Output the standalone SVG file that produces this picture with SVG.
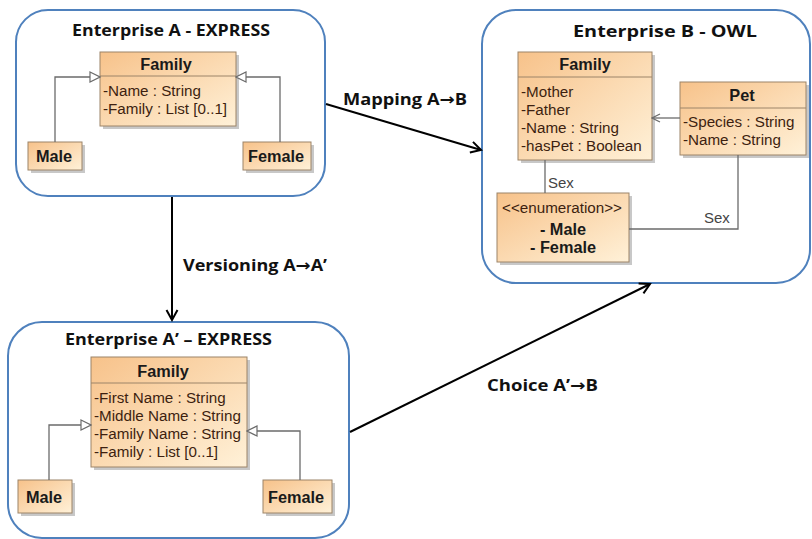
<svg xmlns="http://www.w3.org/2000/svg" width="812" height="539" viewBox="0 0 812 539">
  <style>
    .frame { fill: #ffffff; stroke: #4f81bd; stroke-width: 2; }
    .title { font-family: "Open Sans", "Liberation Sans", sans-serif; font-weight: bold; font-size: 16px; fill: #111; }
    .cls { fill: url(#boxFill); stroke: #9c8468; stroke-width: 1; }
    .shadow { fill: #c8c8c8; }
    .sep { stroke: #9c8468; stroke-width: 1; }
    .cname { font-family: "Liberation Sans", Arial, sans-serif; font-weight: bold; font-size: 16.3px; fill: #1a1a1a; text-anchor: middle; }
    .attr { font-family: "Liberation Sans", Arial, sans-serif; font-size: 15.2px; fill: #3d1f10; }
    .rel { fill: none; stroke: #6b6b6b; stroke-width: 1.3; }
    .role { font-family: "Liberation Sans", Arial, sans-serif; font-size: 15px; fill: #444; }
    .flow { fill: none; stroke: #000; stroke-width: 2; }
    .flabel { font-family: "Open Sans", "Liberation Sans", sans-serif; font-weight: bold; font-size: 16px; fill: #111; }
    .arr { font-family: "DejaVu Sans", sans-serif; font-weight: bold; }
  </style>
  <defs>
    <linearGradient id="boxFill" x1="0" y1="0" x2="1" y2="1">
      <stop offset="0" stop-color="#f7c28a"/>
      <stop offset="1" stop-color="#fff1d8"/>
    </linearGradient>
    <marker id="gen" viewBox="0 0 12 12" refX="11" refY="6" markerWidth="12" markerHeight="12" markerUnits="userSpaceOnUse" orient="auto">
      <path d="M1,1 L11,6 L1,11 Z" fill="#fff" stroke="#6b6b6b" stroke-width="1.2"/>
    </marker>
    <marker id="nav" viewBox="0 0 12 12" refX="11" refY="6" markerWidth="12" markerHeight="12" markerUnits="userSpaceOnUse" orient="auto">
      <path d="M3,2 L11,6 L3,10" fill="none" stroke="#6b6b6b" stroke-width="1.2"/>
    </marker>
    <marker id="head" viewBox="0 0 14 14" refX="12" refY="7" markerWidth="14" markerHeight="14" markerUnits="userSpaceOnUse" orient="auto">
      <path d="M2,1.5 L12,7 L2,12.5" fill="none" stroke="#000" stroke-width="2"/>
    </marker>
  </defs>

  <!-- Enterprise A -->
  <g id="enterpriseA">
    <rect class="frame" x="16" y="10" width="309" height="186" rx="32"/>
    <text class="title" x="72" y="36" textLength="198" lengthAdjust="spacingAndGlyphs">Enterprise A - EXPRESS</text>
  </g>
  <g id="familyA">
    <rect class="shadow" x="103" y="55" width="136" height="74"/>
    <rect class="cls" x="100" y="52" width="136" height="74"/>
    <line class="sep" x1="100" y1="76" x2="236" y2="76"/>
    <text class="cname" x="166" y="70">Family</text>
    <text class="attr" x="103" y="96">-Name : String</text>
    <text class="attr" x="103" y="114">-Family : List [0..1]</text>
  </g>
  <g id="maleA">
    <rect class="shadow" x="31" y="145" width="54" height="28"/>
    <rect class="cls" x="28" y="142" width="54" height="28"/>
    <text class="cname" x="54" y="162">Male</text>
  </g>
  <g id="femaleA">
    <rect class="shadow" x="246" y="145" width="68" height="28"/>
    <rect class="cls" x="243" y="142" width="68" height="28"/>
    <text class="cname" x="276" y="162">Female</text>
  </g>

  <!-- Enterprise B -->
  <g id="enterpriseB">
    <rect class="frame" x="482" y="10" width="328" height="273" rx="34"/>
    <text class="title" x="573" y="37" textLength="184" lengthAdjust="spacingAndGlyphs">Enterprise B - OWL</text>
  </g>
  <g id="familyB">
    <rect class="shadow" x="521" y="55" width="134" height="108"/>
    <rect class="cls" x="518" y="52" width="134" height="108"/>
    <line class="sep" x1="518" y1="77" x2="652" y2="77"/>
    <text class="cname" x="585" y="70">Family</text>
    <text class="attr" x="521" y="97">-Mother</text>
    <text class="attr" x="521" y="115">-Father</text>
    <text class="attr" x="521" y="133">-Name : String</text>
    <text class="attr" x="521" y="151">-hasPet : Boolean</text>
  </g>
  <g id="pet">
    <rect class="shadow" x="683" y="85" width="126" height="73"/>
    <rect class="cls" x="680" y="82" width="126" height="73"/>
    <line class="sep" x1="680" y1="108" x2="806" y2="108"/>
    <text class="cname" x="742" y="101">Pet</text>
    <text class="attr" x="683" y="127">-Species : String</text>
    <text class="attr" x="683" y="145">-Name : String</text>
  </g>
  <g id="sexEnum">
    <rect class="shadow" x="500" y="196" width="132" height="69"/>
    <rect class="cls" x="497" y="193" width="132" height="69"/>
    <text class="attr" x="562" y="213" text-anchor="middle" font-size="13.6" fill="#222">&lt;&lt;enumeration&gt;&gt;</text>
    <text class="cname" x="563" y="235">- Male</text>
    <text class="cname" x="563" y="253">- Female</text>
  </g>

  <!-- Enterprise A' -->
  <g id="enterpriseA2">
    <rect class="frame" x="8" y="322" width="341" height="216" rx="34"/>
    <text class="title" x="65" y="345" textLength="207" lengthAdjust="spacingAndGlyphs">Enterprise A’ – EXPRESS</text>
  </g>
  <g id="familyA2">
    <rect class="shadow" x="94" y="360" width="156" height="110"/>
    <rect class="cls" x="91" y="357" width="156" height="110"/>
    <line class="sep" x1="91" y1="383" x2="247" y2="383"/>
    <text class="cname" x="163" y="377">Family</text>
    <text class="attr" x="94" y="403">-First Name : String</text>
    <text class="attr" x="94" y="421">-Middle Name : String</text>
    <text class="attr" x="94" y="439">-Family Name : String</text>
    <text class="attr" x="94" y="457">-Family : List [0..1]</text>
  </g>
  <g id="maleA2">
    <rect class="shadow" x="21" y="483" width="54" height="33"/>
    <rect class="cls" x="18" y="480" width="54" height="33"/>
    <text class="cname" x="44" y="503">Male</text>
  </g>
  <g id="femaleA2">
    <rect class="shadow" x="266" y="483" width="69" height="33"/>
    <rect class="cls" x="263" y="480" width="69" height="33"/>
    <text class="cname" x="296" y="503">Female</text>
  </g>

  <!-- connectors -->
  <g id="connectors">
    <polyline class="rel" points="55,142 55,77 100,77" marker-end="url(#gen)"/>
    <polyline class="rel" points="280,142 280,77 236,77" marker-end="url(#gen)"/>
    <line class="rel" x1="680" y1="118" x2="652" y2="118" marker-end="url(#nav)"/>
    <line class="rel" x1="545" y1="160" x2="545" y2="193"/>
    <text class="role" x="548" y="188">Sex</text>
    <polyline class="rel" points="738,155 738,229 629,229"/>
    <text class="role" x="704" y="223">Sex</text>
    <polyline class="rel" points="49,480 49,425 91,425" marker-end="url(#gen)"/>
    <polyline class="rel" points="300,480 300,431 247,431" marker-end="url(#gen)"/>

    <line class="flow" x1="172" y1="197" x2="172" y2="320" marker-end="url(#head)"/>
    <text class="flabel" x="183" y="271" textLength="144" lengthAdjust="spacingAndGlyphs">Versioning A<tspan class="arr">→</tspan>A’</text>
    <line class="flow" x1="326" y1="104" x2="481" y2="150" marker-end="url(#head)"/>
    <text class="flabel" x="343" y="105" textLength="124" lengthAdjust="spacingAndGlyphs">Mapping A<tspan class="arr">→</tspan>B</text>
    <line class="flow" x1="350" y1="432" x2="650" y2="284" marker-end="url(#head)"/>
    <text class="flabel" x="487" y="391" textLength="111" lengthAdjust="spacingAndGlyphs">Choice A’<tspan class="arr">→</tspan>B</text>
  </g>
</svg>
